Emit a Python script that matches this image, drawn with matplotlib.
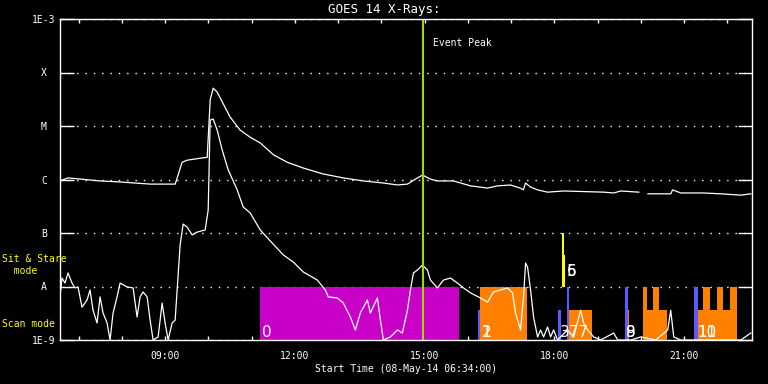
import matplotlib.pyplot as plt
import numpy as np

# GOES 14 X-ray flux, 08-May-14, time in clock hours
long_time = [6.567, 6.752, 7.03, 7.49, 7.955, 8.65, 9.23, 9.39, 9.51, 9.81,
             9.97, 10.04, 10.11, 10.20, 10.32, 10.50, 10.73, 10.96, 11.20, 11.50,
             11.82, 12.19, 12.65, 13.12, 13.58, 14.04, 14.37, 14.60, 14.83, 14.95,
             15.13, 15.29, 15.66, 15.83, 16.06, 16.29, 16.45, 16.68, 16.98, 17.21,
             17.28, 17.33, 17.45, 17.61, 17.84, 18.21, 19.14, 19.37, 19.53, 19.95,
             20.05, 20.16, 20.69, 20.73, 20.92, 21.45, 21.84, 22.31, 22.54]
long_flux = [9.4e-7, 1.07e-6, 1.02e-6, 9.4e-7, 9.0e-7, 8.2e-7, 8.2e-7, 2.1e-6, 2.3e-6, 2.5e-6,
             2.6e-6, 3.1e-5, 5.1e-5, 4.3e-5, 2.8e-5, 1.47e-5, 8.4e-6, 6.2e-6, 4.8e-6, 2.9e-6,
             2.1e-6, 1.64e-6, 1.27e-6, 1.07e-6, 9.4e-7, 8.6e-7, 7.9e-7, 8.2e-7, 1.07e-6, 1.21e-6,
             1.02e-6, 9.4e-7, 9.4e-7, 8.6e-7, 7.6e-7, 7.2e-7, 6.9e-7, 7.6e-7, 7.9e-7, 6.9e-7,
             6.4e-7, 8.6e-7, 7.2e-7, 6.4e-7, 5.8e-7, 6.1e-7, 5.8e-7, 5.6e-7, 6.1e-7, 5.8e-7,
             np.nan, 5.4e-7, 5.4e-7, 6.4e-7, 5.6e-7, 5.6e-7, 5.4e-7, 5.1e-7, 5.4e-7]

short_time = [6.567, 6.613, 6.682, 6.752, 6.844, 6.914, 6.983, 7.076, 7.192, 7.261,
              7.331, 7.423, 7.493, 7.562, 7.655, 7.724, 7.794, 7.886, 7.956, 8.118,
              8.257, 8.349, 8.419, 8.488, 8.581, 8.650, 8.720, 8.835, 8.928, 8.997,
              9.067, 9.159, 9.229, 9.275, 9.344, 9.414, 9.506, 9.622, 9.738, 9.923,
              9.993, 10.039, 10.108, 10.201, 10.317, 10.456, 10.664, 10.803, 10.965, 11.196,
              11.428, 11.729, 11.960, 12.192, 12.516, 12.701, 12.770, 12.979, 13.118, 13.280,
              13.396, 13.511, 13.673, 13.743, 13.905, 13.974, 14.044, 14.206, 14.368, 14.483,
              14.599, 14.669, 14.738, 14.831, 14.947, 15.062, 15.132, 15.294, 15.433, 15.595,
              15.757, 15.896, 16.058, 16.289, 16.451, 16.590, 16.914, 17.030, 17.099, 17.215,
              17.285, 17.331, 17.377, 17.447, 17.516, 17.609, 17.678, 17.748, 17.840, 17.910,
              17.979, 18.072, 18.141, 18.303, 18.442, 18.604, 18.673, 18.766, 18.905, 19.067,
              19.368, 19.461, 19.762, 19.993, 20.340, 20.618, 20.687, 20.757, 20.919, 21.382,
              21.845, 22.308, 22.539]
short_flux = [6.6e-9, 1.44e-8, 1.16e-8, 1.79e-8, 1.16e-8, 9.4e-9, 9.8e-9, 4.1e-9, 5.6e-9, 8.6e-9,
              3.6e-9, 2.08e-9, 6.4e-9, 3.2e-9, 2.08e-9, 1.0e-9, 3.2e-9, 6.4e-9, 1.16e-8, 9.8e-9,
              9.4e-9, 2.69e-9, 6.4e-9, 7.9e-9, 6.4e-9, 2.36e-9, 1.0e-9, 1.14e-9, 4.9e-9, 2.08e-9,
              1.0e-9, 2.08e-9, 2.36e-9, 8.6e-9, 5.97e-8, 1.47e-7, 1.29e-7, 9.2e-8, 1.04e-7, 1.14e-7,
              2.69e-7, 1.29e-5, 1.35e-5, 8.4e-6, 3.56e-6, 1.51e-6, 6.4e-7, 3.06e-7, 2.37e-7, 1.14e-7,
              7.1e-8, 3.9e-8, 2.87e-8, 1.87e-8, 1.32e-8, 8.6e-9, 6.4e-9, 6.1e-9, 4.9e-9, 2.69e-9,
              1.54e-9, 3.2e-9, 5.6e-9, 3.2e-9, 6.1e-9, 2.36e-9, 1.0e-9, 1.14e-9, 1.54e-9, 1.35e-9,
              3.6e-9, 8.6e-9, 1.79e-8, 2.03e-8, 2.52e-8, 2.03e-8, 1.32e-8, 9.4e-9, 1.32e-8, 1.44e-8,
              1.16e-8, 9.4e-9, 7.6e-9, 6.1e-9, 5.1e-9, 7.9e-9, 9.4e-9, 7.6e-9, 3.2e-9, 1.54e-9,
              6.4e-9, 2.75e-8, 2.31e-8, 8.6e-9, 2.69e-9, 1.14e-9, 1.54e-9, 1.14e-9, 1.75e-9, 1.14e-9,
              1.54e-9, 1.0e-9, 1.14e-9, 1.54e-9, 1.14e-9, 3.6e-9, 2.08e-9, 1.54e-9, 1.14e-9, 1.0e-9,
              1.35e-9, 1.0e-9, 1.0e-9, 1.14e-9, 1.0e-9, 1.54e-9, 3.6e-9, 1.14e-9, 1.0e-9, 1.0e-9,
              1.0e-9, 1.0e-9, 1.35e-9]

# observation bars (scan mode): start, end, kind, level
obs_start = [11.196, 16.243, 16.289, 18.087, 18.279, 18.341, 19.630, 19.690, 20.055, 20.055,
             20.270, 21.236, 21.312, 21.444, 21.752, 22.060]
obs_end = [15.803, 16.289, 17.354, 18.156, 18.341, 18.874, 19.690, 19.722, 20.595, 20.132,
           20.425, 21.312, 22.215, 21.597, 21.907, 22.215]
obs_kind = ['magenta', 'blue', 'orange', 'blue', 'blue', 'orange', 'blue', 'orange', 'orange', 'orange',
            'orange', 'blue', 'orange', 'orange', 'orange', 'orange']
obs_level = ['hi', 'lo', 'hi', 'lo', 'hi', 'lo', 'hi', 'lo', 'lo', 'hi',
             'hi', 'hi', 'lo', 'hi', 'hi', 'hi']

# sit & stare bars
sit_start = [18.163, 18.210]
sit_end = [18.210, 18.233]
sit_top = [1e-7, 3.9e-8]

# numbers written on the bars (stacked ones share a spot, as in the original)
scan_labels = ['0', '1', '2', '377', '8', '9', '10', '11']
scan_label_time = [11.24, 16.31, 16.31, 18.13, 19.645, 19.645, 21.312, 21.312]
sit_labels = ['5', '6']
sit_label_time = [18.279, 18.279]

event_peak = 14.958
start_hour = 6.5667

bar_colors = {'magenta': '#c800c8', 'orange': '#ff8000', 'blue': '#5a5aff'}
levels = {'hi': 1e-8, 'lo': 3.64e-9}
ink = 'white'
mono = 'DejaVu Sans Mono'
narrow = ['Liberation Sans Narrow', 'DejaVu Sans']

plt.rcParams['font.family'] = mono
plt.rcParams['font.size'] = 7

fig = plt.figure(figsize=(7.68, 3.84), dpi=100, facecolor='black')
ax = fig.add_axes([60 / 768, 44 / 384, 692 / 768, 321 / 384])
ax.set_facecolor('black')
ax.set_yscale('log')
ax.set_ylim(1e-9, 1e-3)
ax.set_xlim(start_hour, start_hour + 16)

for s, e, k, lv in zip(obs_start, obs_end, obs_kind, obs_level):
    ax.bar(s, levels[lv] - 1e-9, width=e - s, bottom=1e-9, align='edge',
           color=bar_colors[k], linewidth=0, zorder=1)
for s, e, top in zip(sit_start, sit_end, sit_top):
    ax.bar(s, top - 1e-8, width=e - s, bottom=1e-8, align='edge',
           color='#ffff00', linewidth=0, zorder=1)

for lab, t in zip(scan_labels, scan_label_time):
    ax.text(t, 1.41e-9, lab, color=ink, fontsize=11, family=narrow,
            ha='left', va='center', zorder=3)
for lab, t in zip(sit_labels, sit_label_time):
    ax.text(t, 1.87e-8, lab, color=ink, fontsize=11, family=narrow,
            ha='left', va='center', zorder=3)

ax.plot(long_time, long_flux, color=ink, lw=0.9, zorder=2)
ax.plot(short_time, short_flux, color=ink, lw=0.9, zorder=2)

ax.axvline(event_peak, color='#a4d600', lw=1.5, zorder=2.5)
ax.annotate('Event Peak', xy=(event_peak, 0.925), xycoords=('data', 'axes fraction'),
            xytext=(7, 0), textcoords='offset points', color=ink, fontsize=7,
            ha='left', va='center')

# axes styling
for sp in ax.spines.values():
    sp.set_color(ink)
    sp.set_linewidth(1)

decades = [1e-9, 1e-8, 1e-7, 1e-6, 1e-5, 1e-4, 1e-3]
ax.set_yticks(decades)
ax.set_yticklabels(['1E-9', 'A', 'B', 'C', 'M', 'X', '1E-3'])
ax.yaxis.set_minor_locator(plt.NullLocator())
ax.tick_params(axis='y', which='major', direction='in', length=10, width=1,
               left=True, right=True, color=ink, labelcolor=ink, pad=11.5, labelsize=7)
for t in ax.get_yticklabels():
    t.set_horizontalalignment('center')

hours = list(range(7, 23))
ax.set_xticks(hours)
ax.set_xticklabels([f'{h:02d}:00' if h % 3 == 0 else '' for h in hours])
ax.tick_params(axis='x', which='major', direction='in', length=3, width=1,
               top=True, bottom=True, color=ink, labelcolor=ink, pad=8, labelsize=7)

ax.set_axisbelow(True)
ax.yaxis.grid(True, color=ink, linestyle=(0, (1, 5)), linewidth=1)

ax.set_xlabel('Start Time (08-May-14 06:34:00)', color=ink, fontsize=7, labelpad=2)

fig.text(0.5, 1 - 9.5 / 384, 'GOES 14 X-Rays:', color=ink, fontsize=9,
         ha='center', va='center')
fig.text(2 / 768, 1 - 265 / 384, 'Sit & Stare\n  mode', color='#ffff00', fontsize=7,
         ha='left', va='center', linespacing=1.25)
fig.text(2 / 768, 1 - 324 / 384, 'Scan mode', color='#ffff00', fontsize=7,
         ha='left', va='center')

fig.savefig('out.png', dpi=100, facecolor='black')
